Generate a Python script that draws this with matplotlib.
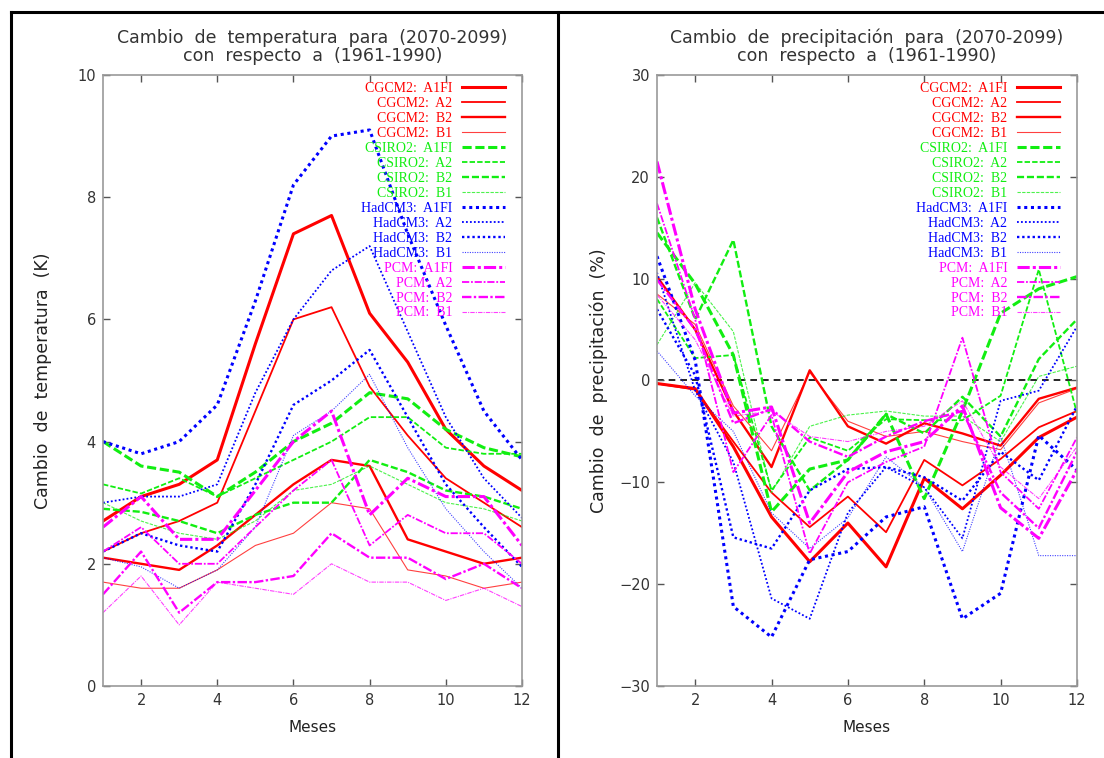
import matplotlib
matplotlib.use("Agg")
import matplotlib.pyplot as plt
from matplotlib.lines import Line2D

# ------------------------------------------------------------
# Data
# ------------------------------------------------------------
months = list(range(1, 13))

models = ["CGCM2", "CSIRO2", "HadCM3", "PCM"]
scenarios = ["A1FI", "A2", "B2", "B1"]

# temperature change (K)
temp_cgcm2 = {
    "A1FI": [2.7, 3.1, 3.3, 3.7, 5.6, 7.4, 7.7, 6.1, 5.3, 4.2, 3.6, 3.2],
    "A2":   [2.2, 2.5, 2.7, 3.0, 4.5, 6.0, 6.2, 4.9, 4.1, 3.4, 3.0, 2.6],
    "B2":   [2.1, 2.0, 1.9, 2.3, 2.8, 3.3, 3.7, 3.6, 2.4, 2.2, 2.0, 2.1],
    "B1":   [1.7, 1.6, 1.6, 1.9, 2.3, 2.5, 3.0, 2.9, 1.9, 1.8, 1.6, 1.7],
}
temp_csiro2 = {
    "A1FI": [4.0, 3.6, 3.5, 3.1, 3.5, 4.0, 4.3, 4.8, 4.7, 4.2, 3.9, 3.75],
    "A2":   [3.3, 3.15, 3.4, 3.1, 3.4, 3.7, 4.0, 4.4, 4.4, 3.9, 3.8, 3.8],
    "B2":   [2.9, 2.85, 2.7, 2.5, 2.8, 3.0, 3.0, 3.7, 3.5, 3.2, 3.1, 2.9],
    "B1":   [3.0, 2.7, 2.5, 2.4, 2.7, 3.2, 3.3, 3.6, 3.3, 3.0, 2.9, 2.7],
}
temp_hadcm3 = {
    "A1FI": [4.0, 3.8, 4.0, 4.6, 6.3, 8.2, 9.0, 9.1, 7.4, 5.9, 4.5, 3.7],
    "A2":   [3.0, 3.1, 3.1, 3.3, 4.8, 6.0, 6.8, 7.2, 5.8, 4.4, 3.4, 2.75],
    "B2":   [2.2, 2.5, 2.3, 2.2, 3.3, 4.6, 5.0, 5.5, 4.4, 3.3, 2.6, 1.95],
    "B1":   [2.1, 1.95, 1.6, 1.9, 2.6, 4.1, 4.5, 5.1, 3.9, 2.9, 2.2, 1.6],
}
temp_pcm = {
    "A1FI": [2.6, 3.1, 2.4, 2.4, 3.2, 4.0, 4.5, 2.8, 3.4, 3.1, 3.1, 2.3],
    "A2":   [2.2, 2.6, 2.0, 2.0, 2.6, 3.2, 3.7, 2.3, 2.8, 2.5, 2.5, 2.0],
    "B2":   [1.5, 2.2, 1.2, 1.7, 1.7, 1.8, 2.5, 2.1, 2.1, 1.75, 2.0, 1.6],
    "B1":   [1.2, 1.8, 1.0, 1.7, 1.6, 1.5, 2.0, 1.7, 1.7, 1.4, 1.6, 1.3],
}

# precipitation change (%)
prec_cgcm2 = {
    "A1FI": [-0.3, -0.8, -6.5, -13.4, -17.8, -14.0, -18.3, -9.6, -12.6, -9.3, -5.6, -3.6],
    "A2":   [-0.3, -0.9, -6.0, -11.0, -14.4, -11.4, -14.9, -7.8, -10.3, -7.7, -4.6, -3.0],
    "B2":   [10.2, 5.0, -3.0, -8.5, 1.0, -4.5, -6.2, -4.2, -5.2, -6.4, -1.8, -0.7],
    "B1":   [8.5, 5.5, -2.5, -6.9, 0.8, -4.0, -5.5, -5.0, -6.0, -6.8, -2.2, -0.8],
}
prec_csiro2 = {
    "A1FI": [14.5, 9.5, 2.5, -12.9, -8.7, -7.8, -3.3, -11.6, -3.0, 6.6, 9.0, 10.2],
    "A2":   [8.0, 2.2, 2.5, -10.8, -5.6, -6.9, -3.8, -3.9, -3.9, -1.5, 10.9, -3.2],
    "B2":   [16.0, 6.0, 13.8, -4.5, -10.8, -7.8, -3.3, -5.2, -1.6, -5.5, 2.1, 6.0],
    "B1":   [3.5, 9.6, 4.8, -11.0, -4.5, -3.4, -3.0, -3.5, -3.5, -6.0, 0.4, 1.4],
}
prec_hadcm3 = {
    "A1FI": [12.2, 2.0, -22.2, -25.2, -17.6, -16.8, -13.4, -12.4, -23.4, -20.9, -5.4, -8.8],
    "A2":   [10.6, -1.0, -8.0, -21.4, -23.4, -13.0, -8.5, -10.5, -15.5, -2.0, -1.0, 5.3],
    "B2":   [7.0, 0.5, -15.4, -16.5, -10.8, -8.7, -8.5, -9.5, -11.8, -7.0, -9.8, -2.5],
    "B1":   [2.9, -1.5, -5.0, -13.0, -16.5, -13.5, -7.5, -10.5, -16.8, -5.5, -17.2, -17.2],
}
prec_pcm = {
    "A1FI": [21.5, 7.0, -3.2, -2.6, -14.0, -9.0, -7.0, -6.0, -2.5, -12.5, -15.5, -8.8],
    "A2":   [17.4, 6.0, -9.0, -3.4, -17.0, -10.0, -8.0, -6.5, 4.2, -9.0, -12.6, -5.6],
    "B2":   [9.9, 5.0, -4.2, -2.8, -6.0, -7.5, -5.5, -4.0, -3.0, -11.0, -14.5, -7.0],
    "B1":   [8.4, 4.0, -3.5, -3.0, -5.5, -6.0, -5.0, -4.5, -2.0, -8.5, -11.6, -6.5],
}

temp_data = {"CGCM2": temp_cgcm2, "CSIRO2": temp_csiro2,
             "HadCM3": temp_hadcm3, "PCM": temp_pcm}
prec_data = {"CGCM2": prec_cgcm2, "CSIRO2": prec_csiro2,
             "HadCM3": prec_hadcm3, "PCM": prec_pcm}

# ------------------------------------------------------------
# Styles (gnuplot-like)
# ------------------------------------------------------------
colors = {"CGCM2": "#ff0000", "CSIRO2": "#11ee11",
          "HadCM3": "#0000ff", "PCM": "#ff00ff"}
dashes = {"CGCM2": "-", "CSIRO2": (0, (3, 1.2)),
          "HadCM3": (0, (1, 1.2)), "PCM": (0, (4, 1, 1, 1))}
widths = {"A1FI": 2.2, "A2": 1.3, "B2": 1.7, "B1": 0.8}
alphas = {"A1FI": 1.0, "A2": 1.0, "B2": 1.0, "B1": 0.75}

plt.rcParams["font.family"] = "DejaVu Sans"

fig = plt.figure(figsize=(11.04, 7.58), dpi=100)
ax1 = fig.add_axes([0.0933, 0.0950, 0.3795, 0.8061])
ax2 = fig.add_axes([0.5951, 0.0950, 0.3804, 0.8061])

text_col = "#333333"


def draw_panel(ax, data, ylim, yticks, title, ylabel, ylabelpad):
    for model in models:
        for sc in scenarios:
            ax.plot(months, data[model][sc], color=colors[model],
                    linestyle=dashes[model], linewidth=widths[sc],
                    alpha=alphas[sc], label=f"{model}:  {sc}")
    ax.set_xlim(1, 12)
    ax.set_ylim(*ylim)
    ax.set_xticks([2, 4, 6, 8, 10, 12])
    ax.set_yticks(yticks)
    ax.tick_params(direction="in", length=5, width=1, color="#555555",
                   top=True, right=True, labelsize=10.5, labelcolor=text_col,
                   pad=5)
    for sp in ax.spines.values():
        sp.set_color("#999999")
        sp.set_linewidth(1.2)
    ax.set_title(title, fontsize=12.5, color=text_col, pad=10, linespacing=1.0)
    ax.set_ylabel(ylabel, fontsize=12.5, color="#222222", labelpad=ylabelpad)
    ax.set_xlabel("Meses", fontsize=11, color="#222222", labelpad=9)
    leg = ax.legend(loc="upper right", bbox_to_anchor=(0.96, 0.988),
                    frameon=False, markerfirst=False, labelcolor="linecolor",
                    prop={"family": "Liberation Serif", "size": 10},
                    handlelength=3.1, handletextpad=0.7, labelspacing=0.14,
                    borderpad=0, borderaxespad=0)
    for t in leg.get_texts():
        t.set_alpha(1.0)


draw_panel(ax1, temp_data, (0, 10), [0, 2, 4, 6, 8, 10],
           "Cambio  de  temperatura  para  (2070-2099)\ncon  respecto  a  (1961-1990)",
           "Cambio  de  temperatura  (K)", 18)
draw_panel(ax2, prec_data, (-30, 30), [-30, -20, -10, 0, 10, 20, 30],
           "Cambio  de  precipitación  para  (2070-2099)\ncon  respecto  a  (1961-1990)",
           "Cambio  de  precipitación  (%)", 8)
ax2.axhline(0, color="black", linestyle=(0, (4, 3)), linewidth=1.2, zorder=0)

# outer frame lines as in the original screenshot
for xs, ys in [((0.010, 1.0), (0.984, 0.984)),
               ((0.010, 0.010), (0.0, 0.984)),
               ((0.5055, 0.5055), (0.0, 0.984))]:
    fig.add_artist(Line2D(xs, ys, color="black", linewidth=2.2,
                          transform=fig.transFigure))

fig.savefig("out.png", dpi=100)
